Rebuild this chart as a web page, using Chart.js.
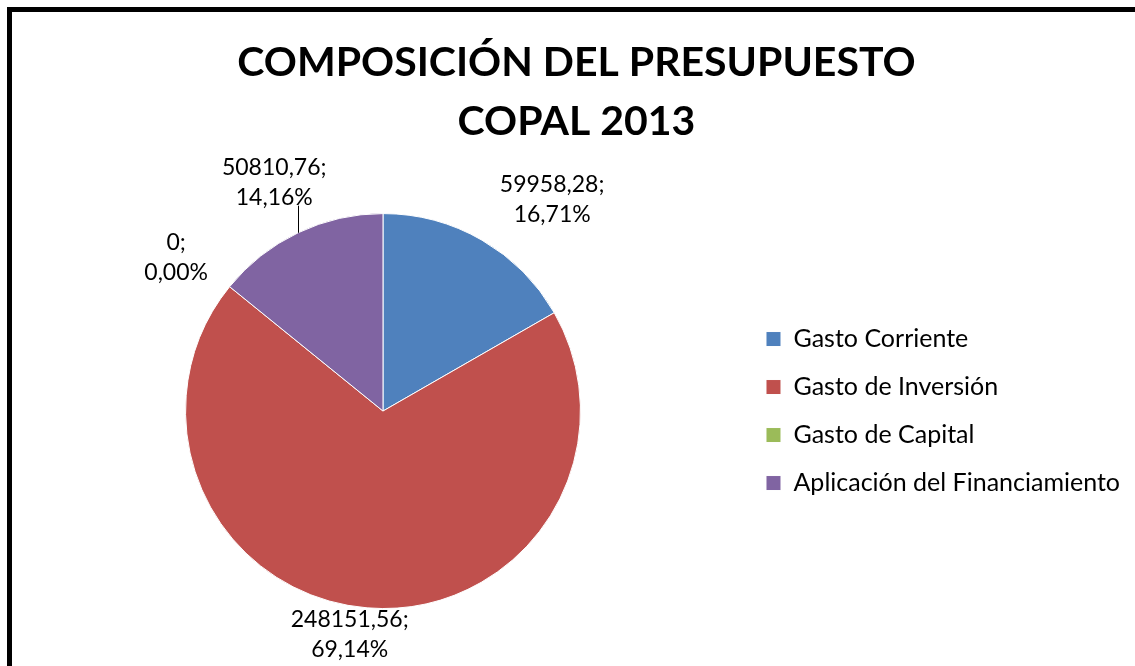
<!DOCTYPE html>
<html>
<head>
<meta charset="utf-8">
<script src="https://cdn.jsdelivr.net/npm/chart.js@4/dist/chart.umd.min.js"></script>
<style>
  html, body { margin: 0; padding: 0; background: #fff; overflow: hidden; }
</style>
</head>
<body>
<canvas id="chart" width="1135" height="666"></canvas>
<script>
var labels = ['Gasto Corriente', 'Gasto de Inversión', 'Gasto de Capital', 'Aplicación del Financiamiento'];
var values = [59958.28, 248151.56, 0, 50810.76];
var colors = ['#4F81BD', '#C0504D', '#9BBB59', '#8064A2'];
var titleLines = ['COMPOSICIÓN DEL PRESUPUESTO', 'COPAL 2013'];

// excel "General" style: comma decimals, no trailing zeros
function fmtValue(n) {
    return String(n).replace('.', ',');
}
function fmtPct(n) {
    return n.toFixed(2).replace('.', ',') + '%';
}

// black frame, cut off at right/bottom like the screenshot
var framePlugin = {
    id: 'frame',
    beforeDraw: function(chart) {
        var c = chart.ctx;
        c.save();
        c.fillStyle = '#fff';
        c.fillRect(0, 0, chart.width, chart.height);
        c.strokeStyle = '#000';
        c.lineWidth = 5;
        c.strokeRect(9.5, 9.5, chart.width + 50, chart.height + 50);
        c.restore();
    }
};

// "value; pct" labels outside each slice
var sliceLabels = {
    id: 'sliceLabels',
    afterDatasetsDraw: function(chart, args, opts) {
        var c = chart.ctx;
        var data = chart.data.datasets[0].data;
        var total = data.reduce(function(a, b) { return a + b; }, 0);
        var meta = chart.getDatasetMeta(0);
        c.save();
        c.font = opts.font;
        c.fillStyle = '#000';
        c.textAlign = 'center';
        c.textBaseline = 'middle';
        meta.data.forEach(function(arc, i) {
            var p = arc.getProps(['x', 'y', 'startAngle', 'endAngle', 'outerRadius'], true);
            var mid = (p.startAngle + p.endAngle) / 2;
            var dx = Math.cos(mid), dy = Math.sin(mid);
            var l1 = fmtValue(data[i]) + ';';
            var l2 = fmtPct(data[i] / total * 100);
            var w = Math.max(c.measureText(l1).width, c.measureText(l2).width);
            var h = opts.lineHeight * 2;
            var ax = p.x + dx * (p.outerRadius + opts.pad);
            var ay = p.y + dy * (p.outerRadius + opts.pad);
            var nudge = opts.nudge[i] || [0, 0];
            var cx = ax + dx * w / 2 + nudge[0];
            var cy = ay + dy * h / 2 + nudge[1];
            c.fillText(l1, cx, cy - opts.lineHeight / 2);
            c.fillText(l2, cx, cy + opts.lineHeight / 2);
            if (opts.leader.indexOf(i) >= 0) {
                var ex = p.x + dx * p.outerRadius;
                var ey = p.y + dy * p.outerRadius;
                c.strokeStyle = '#000';
                c.lineWidth = 1;
                c.beginPath();
                c.moveTo(Math.round(ex) + 0.5, ey);
                c.lineTo(Math.round(ex) + 0.5, cy + h / 2 - 7);
                c.stroke();
            }
        });
        c.restore();
    }
};

var ctx = document.getElementById('chart').getContext('2d');

var myChart = new Chart(ctx, {
    type: 'pie',
    data: {
        labels: labels,
        datasets: [{
            data: values,
            backgroundColor: colors,
            borderColor: '#ffffff',
            borderWidth: 1
        }]
    },
    options: {
        responsive: false,
        animation: false,
        layout: {
            padding: { left: 23, right: 5, top: 0, bottom: 57 }
        },
        plugins: {
            title: {
                display: true,
                text: titleLines,
                color: '#000',
                font: { family: 'Lato', size: 41, weight: 'bold', lineHeight: 1.44 },
                padding: { top: 33, bottom: 62 }
            },
            legend: {
                position: 'right',
                fullSize: false,
                labels: {
                    color: '#000',
                    font: { family: 'Lato', size: 25 },
                    boxWidth: 15,
                    boxHeight: 15,
                    padding: 23
                }
            },
            tooltip: { enabled: false },
            sliceLabels: {
                font: '23px Lato',
                lineHeight: 30,
                pad: 10,
                nudge: [[39, -6], [-12, -13], [-21, -4], [3, -14]],
                leader: [3]
            }
        }
    },
    plugins: [framePlugin, sliceLabels]
});
</script>
</body>
</html>
